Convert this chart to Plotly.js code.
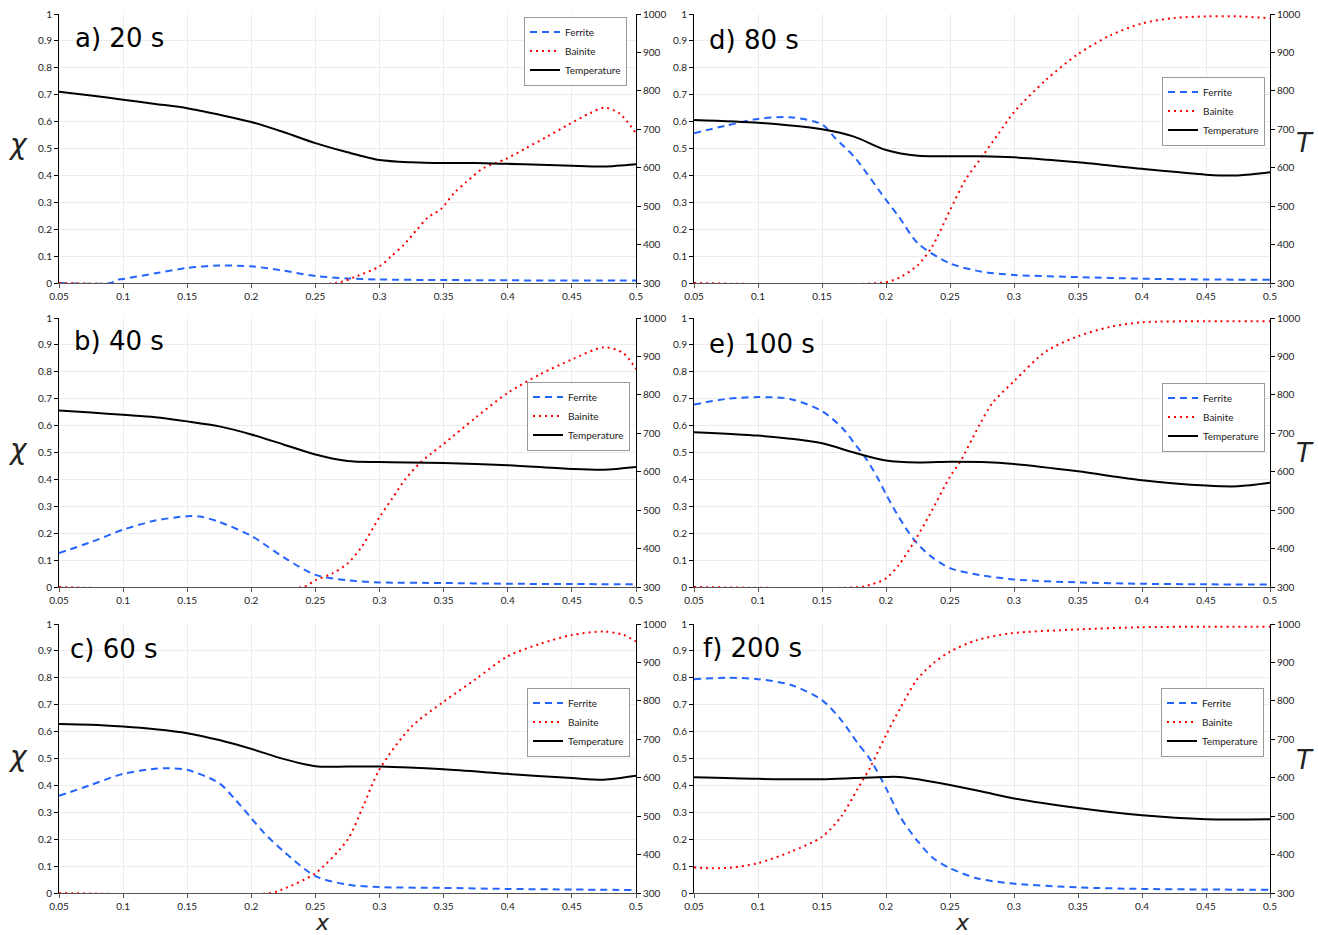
<!DOCTYPE html>
<html><head><meta charset="utf-8">
<script src="https://cdn.plot.ly/plotly-3.0.1.min.js"></script>
<style>html,body{margin:0;padding:0;background:#fff}</style>
</head><body><div id="chart" style="width:1318px;height:935px"></div>
<script>
// ---------- data ----------
const panelLabels = ['a) 20 s', 'b) 40 s', 'c) 60 s', 'd) 80 s', 'e) 100 s', 'f) 200 s'];
const seriesNames = ['Ferrite', 'Bainite', 'Temperature'];

// a) 20 s
const a_xF = [0.05,0.09,0.095,0.1,0.125,0.15,0.175,0.2,0.225,0.25,0.275,0.3,0.35,0.4,0.45,0.5];
const a_F  = [0,0,0.012,0.015,0.036,0.056,0.065,0.062,0.046,0.026,0.017,0.013,0.011,0.010,0.009,0.009];
const a_xB = [0.05,0.266,0.282,0.3,0.309,0.319,0.329,0.338,0.348,0.358,0.368,0.381,0.398,0.414,0.431,0.447,0.464,0.475,0.487,0.5];
const a_B  = [0,0,0.025,0.062,0.099,0.142,0.198,0.245,0.275,0.334,0.377,0.427,0.46,0.501,0.545,0.588,0.631,0.652,0.631,0.557];
const a_xT = [0.05,0.075,0.1,0.125,0.15,0.175,0.2,0.225,0.25,0.275,0.3,0.325,0.35,0.375,0.4,0.425,0.45,0.475,0.5];
const a_T  = [798,788,777,766,755,738,719,693,664,640,620,614,612,612,610,608,605,603,609];

// b) 40 s
const b_xF = [0.05,0.075,0.1,0.125,0.15,0.16,0.175,0.2,0.225,0.25,0.275,0.3,0.35,0.4,0.45,0.5];
const b_F  = [0.126,0.167,0.213,0.247,0.263,0.262,0.242,0.19,0.111,0.045,0.025,0.017,0.015,0.012,0.011,0.010];
const b_xB = [0.05,0.24,0.25,0.263,0.275,0.286,0.3,0.31,0.32,0.332,0.34,0.35,0.375,0.4,0.425,0.45,0.475,0.49,0.5];
const b_B  = [0,0,0.025,0.05,0.087,0.149,0.26,0.33,0.40,0.464,0.495,0.532,0.63,0.722,0.79,0.846,0.891,0.87,0.81];
const b_xT = [0.05,0.075,0.1,0.125,0.15,0.175,0.2,0.225,0.25,0.275,0.3,0.35,0.4,0.45,0.475,0.5];
const b_T  = [759,754,748,742,731,718,697,671,645,628,625,623,617,607,605,612];

// c) 60 s
const c_xF = [0.05,0.075,0.1,0.125,0.135,0.15,0.175,0.187,0.2,0.21,0.225,0.25,0.275,0.3,0.35,0.4,0.45,0.5];
const c_F  = [0.361,0.402,0.443,0.462,0.464,0.458,0.408,0.35,0.278,0.223,0.155,0.063,0.031,0.022,0.019,0.015,0.013,0.011];
const c_xB = [0.05,0.215,0.225,0.25,0.275,0.287,0.3,0.325,0.35,0.375,0.4,0.425,0.45,0.475,0.49,0.5];
const c_B  = [0,0,0.015,0.074,0.198,0.32,0.46,0.619,0.711,0.795,0.88,0.926,0.959,0.972,0.96,0.935];
const c_xT = [0.05,0.075,0.1,0.125,0.15,0.175,0.2,0.225,0.25,0.275,0.3,0.35,0.4,0.45,0.475,0.5];
const c_T  = [740,738,733,726,716,698,675,649,630,629,629,622,610,599,595,605];

// d) 80 s
const d_xF = [0.05,0.075,0.1,0.125,0.15,0.16,0.175,0.2,0.21,0.225,0.25,0.275,0.3,0.35,0.4,0.45,0.5];
const d_F  = [0.557,0.585,0.61,0.616,0.59,0.54,0.47,0.309,0.247,0.147,0.073,0.042,0.030,0.022,0.016,0.013,0.012];
const d_xB = [0.05,0.2,0.212,0.225,0.236,0.25,0.262,0.276,0.288,0.3,0.325,0.35,0.375,0.4,0.425,0.45,0.475,0.5];
const d_B  = [0,0.003,0.024,0.067,0.135,0.27,0.383,0.476,0.556,0.635,0.755,0.851,0.92,0.965,0.985,0.991,0.991,0.984];
const d_xT = [0.05,0.1,0.125,0.15,0.175,0.2,0.225,0.25,0.275,0.3,0.35,0.4,0.45,0.475,0.5];
const d_T  = [724,717,710,700,681,646,631,630,630,627,614,597,582,580,588];

// e) 100 s
const e_xF = [0.05,0.075,0.1,0.125,0.15,0.166,0.176,0.184,0.193,0.2,0.21,0.222,0.234,0.25,0.273,0.3,0.35,0.4,0.45,0.5];
const e_F  = [0.678,0.699,0.706,0.699,0.654,0.59,0.53,0.48,0.41,0.345,0.26,0.175,0.118,0.07,0.045,0.028,0.017,0.012,0.010,0.009];
const e_xB = [0.05,0.18,0.189,0.2,0.21,0.222,0.234,0.25,0.258,0.273,0.283,0.3,0.325,0.35,0.375,0.4,0.45,0.5];
const e_B  = [0,0,0.01,0.032,0.082,0.168,0.268,0.41,0.466,0.602,0.683,0.765,0.876,0.932,0.967,0.984,0.988,0.988];
const e_xT = [0.05,0.1,0.125,0.15,0.175,0.2,0.225,0.25,0.275,0.3,0.35,0.4,0.45,0.475,0.5];
const e_T  = [703,694,686,674,650,629,624,626,625,620,601,578,564,562,571];

// f) 200 s
const f_xF = [0.05,0.075,0.1,0.126,0.15,0.165,0.178,0.188,0.2,0.211,0.224,0.237,0.25,0.271,0.297,0.35,0.4,0.45,0.5];
const f_F  = [0.795,0.80,0.795,0.773,0.717,0.643,0.556,0.494,0.39,0.284,0.197,0.129,0.092,0.055,0.036,0.021,0.015,0.013,0.012];
const f_xB = [0.05,0.065,0.08,0.1,0.126,0.15,0.165,0.178,0.188,0.2,0.211,0.224,0.237,0.25,0.271,0.297,0.35,0.4,0.45,0.5];
const f_B  = [0.095,0.092,0.095,0.111,0.154,0.209,0.284,0.389,0.47,0.587,0.686,0.792,0.854,0.897,0.94,0.965,0.98,0.988,0.99,0.99];
const f_xT = [0.05,0.1,0.15,0.175,0.2,0.21,0.225,0.25,0.275,0.3,0.35,0.4,0.45,0.5];
const f_T  = [601,597,596,599,602,602,596,581,564,546,521,502,492,492];

const panels = [
  {xF:a_xF,F:a_F,xB:a_xB,B:a_B,xT:a_xT,T:a_T},
  {xF:b_xF,F:b_F,xB:b_xB,B:b_B,xT:b_xT,T:b_T},
  {xF:c_xF,F:c_F,xB:c_xB,B:c_B,xT:c_xT,T:c_T},
  {xF:d_xF,F:d_F,xB:d_xB,B:d_B,xT:d_xT,T:d_T},
  {xF:e_xF,F:e_F,xB:e_xB,B:e_B,xT:e_xT,T:e_T},
  {xF:f_xF,F:f_F,xB:f_xB,B:f_B,xT:f_xT,T:f_T}
];

// ---------- layout geometry ----------
const W = 1318, H = 935;
const colDom = [[59/W, 636/W], [694/W, 1270/W]];
const rowDom = [[1-283/H, 1-14/H], [1-587/H, 1-318/H], [1-893/H, 1-624/H]];
const legendPos = [[627,51],[630,416],[630,722],[1265,111],[1265,417],[1264,722]];
const labelPos = [[73,38],[72,341],[68,649],[707,40],[707,344],[701,648]];

const FONT = 'Lato, "DejaVu Sans", sans-serif';
const tickFont = {family: FONT, size: 10, color: '#222'};
const FERRITE = 'rgb(35,100,255)';
const BAINITE = 'rgb(255,0,0)';

const traces = [];
const layout = {
  width: W, height: H,
  margin: {l:0, r:0, t:0, b:0},
  paper_bgcolor: '#fff', plot_bgcolor: '#fff',
  showlegend: true,
  annotations: []
};

panels.forEach((p, i) => {
  const col = Math.floor(i / 3), row = i % 3;
  const xa = 'x' + (i+1), yl = 'y' + (2*i+1), yr = 'y' + (2*i+2);
  const legName = i === 0 ? 'legend' : 'legend' + (i+1);
  traces.push({x: p.xF, y: p.F, xaxis: xa, yaxis: yl, name: seriesNames[0], mode: 'lines', legend: legName,
    line: {color: FERRITE, width: 2, dash: '7px,5px', shape: 'spline', smoothing: 0.8}});
  traces.push({x: p.xB, y: p.B, xaxis: xa, yaxis: yl, name: seriesNames[1], mode: 'lines', legend: legName,
    line: {color: BAINITE, width: 2, dash: '2px,4px', shape: 'spline', smoothing: 0.8}});
  traces.push({x: p.xT, y: p.T, xaxis: xa, yaxis: yr, name: seriesNames[2], mode: 'lines', legend: legName,
    line: {color: '#000', width: 2, shape: 'spline', smoothing: 0.8}});

  const xKey = 'xaxis' + (i+1), ylKey = 'yaxis' + (2*i+1), yrKey = 'yaxis' + (2*i+2);
  layout[xKey] = {
    domain: colDom[col], anchor: yl, range: [0.05, 0.5], dtick: 0.05, tick0: 0.05,
    showgrid: true, gridcolor: '#ececec', zeroline: false,
    showline: true, linecolor: '#555', linewidth: 1,
    ticks: 'outside', ticklen: 4, tickcolor: '#555', tickfont: tickFont
  };
  layout[ylKey] = {
    domain: rowDom[row], anchor: xa, range: [0, 1], dtick: 0.1,
    showgrid: true, gridcolor: '#ececec', zeroline: false,
    showline: true, linecolor: '#000', linewidth: 1,
    ticks: 'outside', ticklen: 4, tickcolor: '#000', tickfont: tickFont
  };
  layout[yrKey] = {
    domain: rowDom[row], anchor: xa, overlaying: yl, side: 'right', range: [300, 1000], dtick: 100,
    showgrid: false, zeroline: false,
    showline: true, linecolor: '#000', linewidth: 1,
    ticks: 'outside', ticklen: 4, tickcolor: '#000', tickfont: tickFont
  };
  layout[legName] = {
    x: legendPos[i][0]/W, y: 1 - legendPos[i][1]/H, xanchor: 'right', yanchor: 'middle',
    bgcolor: '#fff', bordercolor: '#999', borderwidth: 1,
    font: {family: FONT, size: 10, color: '#222'}, itemwidth: 30, tracegroupgap: 0
  };
  layout.annotations.push({
    text: panelLabels[i], xref: 'paper', yref: 'paper', showarrow: false,
    x: labelPos[i][0]/W, y: 1 - labelPos[i][1]/H, xanchor: 'left', yanchor: 'middle',
    font: {family: '"DejaVu Sans", sans-serif', size: 26, color: '#000'}
  });
});

// axis symbols
[[18,145],[18,450],[18,756]].forEach(pos => layout.annotations.push({
  text: '<i>χ</i>', xref: 'paper', yref: 'paper', showarrow: false,
  x: pos[0]/W, y: 1 - pos[1]/H, xanchor: 'center', yanchor: 'middle',
  font: {family: '"DejaVu Sans", sans-serif', size: 28, color: '#222'}
}));
[[1305,143],[1305,453],[1305,760]].forEach(pos => layout.annotations.push({
  text: '<i>T</i>', xref: 'paper', yref: 'paper', showarrow: false,
  x: pos[0]/W, y: 1 - pos[1]/H, xanchor: 'center', yanchor: 'middle',
  font: {family: '"DejaVu Sans", sans-serif', size: 26, color: '#222'}
}));
[[322,922],[962,922]].forEach(pos => layout.annotations.push({
  text: '<i>x</i>', xref: 'paper', yref: 'paper', showarrow: false,
  x: pos[0]/W, y: 1 - pos[1]/H, xanchor: 'center', yanchor: 'middle',
  font: {family: '"DejaVu Sans", sans-serif', size: 22, color: '#222'}
}));

Plotly.newPlot('chart', traces, layout, {displayModeBar: false, staticPlot: true});
</script></body></html>
